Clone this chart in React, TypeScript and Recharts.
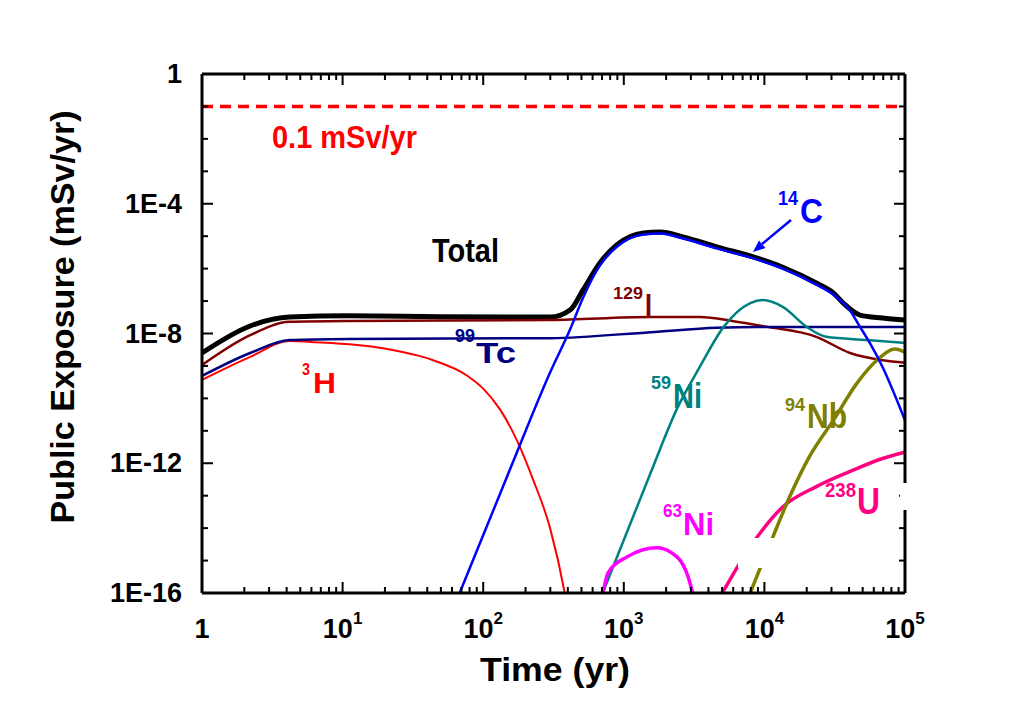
import React from 'react';
import { LineChart, Line, XAxis, YAxis, ReferenceLine } from 'recharts';

// time axis (yr), log scale
const timeMajorTicks = [1, 10, 100, 1000, 10000, 100000];
const timeMinorSteps = [2, 3, 4, 5, 6, 7, 8, 9];

// exposure axis (mSv/yr), log scale
const doseTicks = [1e-16, 1e-15, 1e-14, 1e-13, 1e-12, 1e-11, 1e-10, 1e-9, 1e-8, 1e-7, 1e-6, 1e-5, 1e-4, 1e-3, 1e-2, 1e-1, 1];
const doseLabelTicks = [1, 1e-4, 1e-8, 1e-12, 1e-16];
const doseLabelText = ['1', '1E-4', '1E-8', '1E-12', '1E-16'];

const doseLimit = 0.1;

// [time (yr), exposure (mSv/yr)]
const total = [
  [1, 2.5e-9], [2.2, 1.7e-8], [4.2, 3.2e-8], [11, 3.5e-8], [50, 3.3e-8], [300, 3.2e-8],
  [417, 5.4e-8], [513, 2.2e-7], [676, 1.5e-6], [891, 5.4e-6], [1380, 1.26e-5], [1820, 1.35e-5],
  [2630, 9.5e-6], [4570, 4.7e-6], [8900, 2.1e-6], [13500, 1.1e-6], [23400, 3.6e-7], [30900, 1.8e-7],
  [36300, 8.7e-8], [47900, 3.7e-8], [69200, 3.0e-8], [100000, 2.6e-8],
];
const c14 = [
  [50, 4e-18], [68, 1e-16], [158, 7.9e-13], [299, 6.3e-10], [417, 1.4e-8], [513, 1.26e-7],
  [676, 1.26e-6], [891, 4.7e-6], [1380, 1.12e-5], [1820, 1.2e-5], [2630, 8.5e-6], [4570, 4.2e-6],
  [8900, 1.9e-6], [13500, 1e-6], [23400, 3.2e-7], [30900, 1.6e-7], [40700, 5e-8], [47900, 1.6e-8],
  [56200, 5.1e-9], [69200, 9.3e-10], [100000, 2.1e-11],
];
const h3 = [
  [1, 3.7e-10], [2.2, 1.9e-9], [4.2, 5.9e-9], [5.9, 5.5e-9], [19.4, 3.5e-9], [44, 1.5e-9],
  [77, 5e-10], [100, 2e-10], [132, 4.5e-11], [174, 5e-12], [226, 3.2e-13], [299, 1e-14],
  [380, 1e-16], [430, 4e-18],
];
const i129 = [
  [1, 1.07e-9], [2.2, 8.9e-9], [4.2, 2.3e-8], [11, 2.45e-8], [300, 2.6e-8], [1550, 3.2e-8],
  [3470, 3.2e-8], [6030, 2.4e-8], [10500, 1.6e-8], [23400, 7.9e-9], [40700, 2.5e-9], [69200, 1.5e-9],
  [100000, 1.26e-9],
];
const tc99 = [
  [1, 4.9e-10], [2.2, 2.5e-9], [4.2, 6.3e-9], [11, 6.8e-9], [300, 7.2e-9], [1550, 1.1e-8],
  [4570, 1.5e-8], [8900, 1.6e-8], [100000, 1.6e-8],
];
const ni59 = [
  [560, 7.9e-18], [708, 1e-16], [1550, 5e-13], [2400, 5e-11], [3470, 9.3e-10], [5130, 1.6e-8],
  [7940, 8.7e-8], [9770, 1.07e-7], [13500, 6.6e-8], [20000, 1.6e-8], [27500, 7.9e-9], [53700, 6.3e-9],
  [100000, 5.1e-9],
];
const ni63 = [
  [661, 2.5e-17], [711, 1e-16], [773, 4.2e-16], [1054, 1.3e-15], [1722, 2.5e-15], [2390, 1.3e-15],
  [2864, 3.2e-16], [3090, 1e-16], [3400, 2e-17],
];
const u238 = [
  [4170, 2.8e-17], [5010, 1e-16], [6700, 8.5e-16], [8910, 5.4e-15], [13500, 4.5e-14], [23400, 1.9e-13],
  [40700, 5.6e-13], [69200, 1.4e-12], [100000, 2.2e-12],
];
const nb94 = [
  [6610, 1.26e-17], [7940, 1e-16], [11500, 5.4e-15], [15100, 9.1e-14], [20900, 1.6e-12], [30900, 2.1e-11],
  [45700, 3e-10], [63100, 1.5e-9], [85000, 3.3e-9], [100000, 2.6e-9],
];

const toPts = (rows: number[][]) => rows.map(([time, dose]) => ({ time, dose }));

const timeTicks = [
  ...timeMajorTicks,
  ...timeMajorTicks.slice(0, -1).flatMap((d) => timeMinorSteps.map((m) => m * d)),
].sort((a, b) => a - b);

const FONT = '"Liberation Sans", Arial, sans-serif';
const W = 1012;
const H = 692;

const BottomTick = (props: any) => {
  const { x, y, payload } = props;
  const v = payload.value;
  const major = timeMajorTicks.includes(v);
  const exp = Math.round(Math.log10(v));
  return (
    <g>
      <line x1={x} x2={x} y1={y} y2={y - (major ? 11 : 6)} stroke="#000" strokeWidth={2} />
      {major && (
        <text x={x} y={y + 45} textAnchor="middle" fontFamily={FONT} fontWeight="bold" fontSize={27} fill="#000">
          {exp === 0 ? '1' : '10'}
          {exp !== 0 && <tspan dy={-14} fontSize={17}>{exp}</tspan>}
        </text>
      )}
    </g>
  );
};

const TopTick = (props: any) => {
  const { x, y, payload } = props;
  const major = timeMajorTicks.includes(payload.value);
  return <line x1={x} x2={x} y1={y} y2={y + (major ? 11 : 6)} stroke="#000" strokeWidth={2} />;
};

const LeftTick = (props: any) => {
  const { x, y, payload } = props;
  const idx = doseLabelTicks.indexOf(payload.value);
  return (
    <g>
      <line x1={x} x2={x + (idx >= 0 ? 11 : 6)} y1={y} y2={y} stroke="#000" strokeWidth={2} />
      {idx >= 0 && (
        <text x={x - 20} y={y + 9} textAnchor="end" fontFamily={FONT} fontWeight="bold" fontSize={27} fill="#000">
          {doseLabelText[idx]}
        </text>
      )}
    </g>
  );
};

const RightTick = (props: any) => {
  const { x, y, payload } = props;
  const major = doseLabelTicks.includes(payload.value);
  return <line x1={x} x2={x - (major ? 11 : 6)} y1={y} y2={y} stroke="#000" strokeWidth={2} />;
};

// isotope label: small mass number + element symbol
const Iso = ({ x, y, mass, sym, color, ms, ss, ml, sl, rise, gap }: any) => (
  <g fill={color} fontFamily={FONT} fontWeight="bold">
    <text x={x} y={y - rise} fontSize={ms} textLength={ml} lengthAdjust="spacingAndGlyphs">{mass}</text>
    <text x={x + ml + gap} y={y} fontSize={ss} textLength={sl} lengthAdjust="spacingAndGlyphs">{sym}</text>
  </g>
);

const frame = { stroke: '#000', strokeWidth: 3 };

export default function App() {
  return (
    <div style={{ position: 'relative', width: W, height: H }}>
      <LineChart width={W} height={H} margin={{ top: 65, right: 114, bottom: 106, left: 193 }}>
        <XAxis
          dataKey="time" type="number" scale="log" domain={[1, 100000]} allowDataOverflow
          ticks={timeTicks} interval={0} height={1} tickSize={0} tickMargin={0}
          axisLine={frame} tickLine={false} tick={BottomTick}
        />
        <XAxis
          xAxisId="top" orientation="top" dataKey="time" type="number" scale="log" domain={[1, 100000]} allowDataOverflow
          ticks={timeTicks} interval={0} height={1} tickSize={0} tickMargin={0}
          axisLine={frame} tickLine={false} tick={TopTick}
        />
        <YAxis
          dataKey="dose" type="number" scale="log" domain={[1e-16, 1]} allowDataOverflow
          ticks={doseTicks} interval={0} width={1} tickSize={0} tickMargin={0}
          axisLine={frame} tickLine={false} tick={LeftTick}
        />
        <YAxis
          yAxisId="right" orientation="right" dataKey="dose" type="number" scale="log" domain={[1e-16, 1]} allowDataOverflow
          ticks={doseTicks} interval={0} width={1} tickSize={0} tickMargin={0}
          axisLine={frame} tickLine={false} tick={RightTick}
        />
        <ReferenceLine y={doseLimit} stroke="#FF0000" strokeWidth={3.5} strokeDasharray="11 7" />
        <Line data={toPts(total)} dataKey="dose" type="monotone" stroke="#000000" strokeWidth={5} dot={false} activeDot={false} isAnimationActive={false} />
        <Line data={toPts(i129)} dataKey="dose" type="monotone" stroke="#800000" strokeWidth={2.5} dot={false} activeDot={false} isAnimationActive={false} />
        <Line data={toPts(h3)} dataKey="dose" type="monotone" stroke="#FF0000" strokeWidth={2} dot={false} activeDot={false} isAnimationActive={false} />
        <Line data={toPts(tc99)} dataKey="dose" type="monotone" stroke="#000080" strokeWidth={2.5} dot={false} activeDot={false} isAnimationActive={false} />
        <Line data={toPts(ni59)} dataKey="dose" type="monotone" stroke="#008080" strokeWidth={2.5} dot={false} activeDot={false} isAnimationActive={false} />
        <Line data={toPts(ni63)} dataKey="dose" type="monotone" stroke="#FF00FF" strokeWidth={3.5} dot={false} activeDot={false} isAnimationActive={false} />
        <Line data={toPts(u238)} dataKey="dose" type="monotone" stroke="#FF0080" strokeWidth={3.5} dot={false} activeDot={false} isAnimationActive={false} />
        <Line data={toPts(nb94)} dataKey="dose" type="monotone" stroke="#808000" strokeWidth={3.5} dot={false} activeDot={false} isAnimationActive={false} />
        <Line data={toPts(c14)} dataKey="dose" type="monotone" stroke="#0000FF" strokeWidth={2.5} dot={false} activeDot={false} isAnimationActive={false} />
      </LineChart>

      <svg width={W} height={H} style={{ position: 'absolute', left: 0, top: 0, pointerEvents: 'none' }}>
        {/* white patches present in the original figure */}
        <rect x={730} y={530} width={39} height={30} fill="#fff" />
        <rect x={892} y={475} width={12} height={27} fill="#fff" />

        <text x={264} y={140} fill="#FF0000" fontFamily={FONT} fontWeight="bold" fontSize={32} textLength={145} lengthAdjust="spacingAndGlyphs">0.1 mSv/yr</text>
        <text x={424} y={254} fill="#000" fontFamily={FONT} fontWeight="bold" fontSize={34} textLength={67} lengthAdjust="spacingAndGlyphs">Total</text>

        <Iso x={770} y={215} mass="14" sym="C" color="#0000FF" ms={21} ss={35} ml={20} sl={23} rise={18} gap={2} />
        <line x1={783} y1={212} x2={754} y2={236} stroke="#0000FF" strokeWidth={2.5} />
        <polygon points="745,244 757.4,240.1 751,232.5" fill="#0000FF" />

        <Iso x={605} y={308} mass="129" sym="I" color="#800000" ms={17} ss={32} ml={30} sl={7} rise={17} gap={2} />
        <Iso x={447} y={355} mass="99" sym="Tc" color="#000080" ms={19} ss={30} ml={20} sl={40} rise={21} gap={1} />
        <Iso x={294} y={385} mass="3" sym="H" color="#FF0000" ms={17} ss={30} ml={8} sl={23} rise={18} gap={3} />
        <Iso x={643} y={400} mass="59" sym="Ni" color="#008080" ms={19} ss={35} ml={20} sl={29} rise={19} gap={2} />
        <Iso x={777} y={420} mass="94" sym="Nb" color="#808000" ms={19} ss={35} ml={20} sl={40} rise={17} gap={2} />
        <Iso x={655} y={527} mass="63" sym="Ni" color="#FF00FF" ms={19} ss={32} ml={19} sl={31} rise={18} gap={1} />
        <Iso x={817} y={506} mass="238" sym="U" color="#FF0080" ms={21} ss={36} ml={31} sl={23} rise={17} gap={1} />

        <text x={547} y={673} textAnchor="middle" fill="#000" fontFamily={FONT} fontWeight="bold" fontSize={34} textLength={150} lengthAdjust="spacingAndGlyphs">Time (yr)</text>
        <text transform="translate(66,309) rotate(-90)" x={0} y={0} textAnchor="middle" fill="#000" fontFamily={FONT} fontWeight="bold" fontSize={34} textLength={413} lengthAdjust="spacingAndGlyphs">Public Exposure (mSv/yr)</text>
      </svg>
    </div>
  );
}
